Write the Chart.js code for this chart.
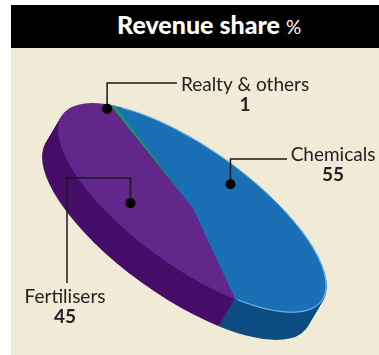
<!DOCTYPE html>
<html>
<head>
<meta charset="utf-8">
<script src="https://cdn.jsdelivr.net/npm/chart.js@4"></script>
<style>
  body { margin: 0; background: #fff; width: 379px; height: 355px; overflow: hidden; position: relative; }
  #head { position: absolute; left: 11px; top: 5px; width: 368px; height: 43px; background: #000; }
  #head .t { position: absolute; left: 106px; top: 4px; color: #fff; font-family: Lato, sans-serif; font-weight: 900; font-size: 25px; white-space: nowrap; }
  #head .t span { font-weight: 400; font-size: 19px; }
  #box { position: absolute; left: 11px; top: 48px; width: 368px; height: 307px; background: #f0ead6; }
</style>
</head>
<body>
<div id="head"><div class="t">Revenue share <span>%</span></div></div>
<div id="box"><canvas id="pie_share"></canvas></div>
<script>
// values
var segments = ['Realty & others', 'Chemicals', 'Fertilisers']
var shares = [1, 55, 45]
var topColors = ['#1d8c7a', '#1b70b5', '#63268b']
var sideColors = ['#13584d', '#0d4d83', '#470e69']
var rimColors = [null, '#7cbfe8', null]

// callout placement: angle offset from slice middle, radius fraction, elbow route, text spot
var callouts = [
    { da: -5.6, rf: 0.95, path: [['y', 35], ['x', 166]], tx: 234, ty: 37 },
    { da: -40, rf: 0.71, path: [['y', 111], ['x', 276]], tx: 322, ty: 107 },
    { da: -15.5, rf: 0.64, path: [['y', 130], ['x', 56], ['y', 235]], tx: 54, ty: 249 }
]

// tilt of the disc on the page
var tilt = { cx: 181.5, cy: 160, angle: 35.7, a: 160, b: 59, dx: -16, dy: 27 }

function tiltMatrix(arc) {
    var r = arc.outerRadius
    return new DOMMatrix()
        .translate(tilt.cx, tilt.cy)
        .rotate(tilt.angle)
        .scale(tilt.a / r, tilt.b / r)
        .translate(-arc.x, -arc.y)
}

var tiltPlugin = {
    id: 'tilt',
    beforeDatasetsDraw(chart) {
        var ctx = chart.ctx
        var arcs = chart.getDatasetMeta(0).data
        var m = tiltMatrix(arcs[0])
        // side wall: stacked copies pushed down
        for (var k = tilt.dy; k >= 1; k--) {
            ctx.save()
            ctx.translate(tilt.dx * k / tilt.dy, k)
            ctx.transform(m.a, m.b, m.c, m.d, m.e, m.f)
            arcs.forEach(function (arc, i) {
                ctx.beginPath()
                ctx.moveTo(arc.x, arc.y)
                ctx.arc(arc.x, arc.y, arc.outerRadius, arc.startAngle, arc.endAngle)
                ctx.closePath()
                ctx.fillStyle = sideColors[i]
                ctx.fill()
            })
            ctx.restore()
        }
        ctx.save()
        ctx.transform(m.a, m.b, m.c, m.d, m.e, m.f)
    },
    afterDatasetsDraw(chart) {
        var ctx = chart.ctx
        ctx.restore()
        var arcs = chart.getDatasetMeta(0).data
        var m = tiltMatrix(arcs[0])
        // light rim on the top face
        arcs.forEach(function (arc, i) {
            if (!rimColors[i]) return
            ctx.save()
            ctx.transform(m.a, m.b, m.c, m.d, m.e, m.f)
            ctx.beginPath()
            ctx.arc(arc.x, arc.y, arc.outerRadius - 1, arc.startAngle + 0.05, arc.endAngle - 0.02)
            ctx.restore()
            ctx.strokeStyle = rimColors[i]
            ctx.lineWidth = 1
            ctx.stroke()
        })
        arcs.forEach(function (arc, i) {
            var c = callouts[i]
            var ang = (arc.startAngle + arc.endAngle) / 2 + c.da * Math.PI / 180
            var p = m.transformPoint(new DOMPoint(
                arc.x + Math.cos(ang) * arc.outerRadius * c.rf,
                arc.y + Math.sin(ang) * arc.outerRadius * c.rf))
            ctx.save()
            ctx.strokeStyle = '#1a1a1a'
            ctx.lineWidth = 1.5
            ctx.beginPath()
            ctx.moveTo(p.x, p.y)
            var x = p.x, y = p.y
            c.path.forEach(function (s) {
                if (s[0] == 'x') x = s[1]; else y = s[1]
                ctx.lineTo(x, y)
            })
            ctx.stroke()
            ctx.fillStyle = '#000'
            ctx.beginPath()
            ctx.arc(p.x, p.y, 5, 0, Math.PI * 2)
            ctx.fill()
            ctx.fillStyle = '#222'
            ctx.textAlign = 'center'
            ctx.textBaseline = 'middle'
            ctx.font = '19px Lato'
            ctx.fillText(segments[i], c.tx, c.ty)
            ctx.font = 'bold 19px Lato'
            ctx.fillText(String(shares[i]), c.tx, c.ty + 20)
            ctx.restore()
        })
    }
}

var share_plot = document.getElementById('pie_share').getContext('2d')
var pieChart = new Chart(share_plot, {
    type: 'pie',
    data: {
        labels: segments,
        datasets: [{
            data: shares,
            backgroundColor: topColors,
            borderWidth: 0,
            clip: false
        }]
    },
    options: {
        responsive: true,
        maintainAspectRatio: false,
        animation: false,
        events: [],
        rotation: 307,
        layout: { padding: 0 },
        plugins: {
            legend: { display: false },
            tooltip: { enabled: false }
        }
    },
    plugins: [tiltPlugin]
})
</script>
</body>
</html>
